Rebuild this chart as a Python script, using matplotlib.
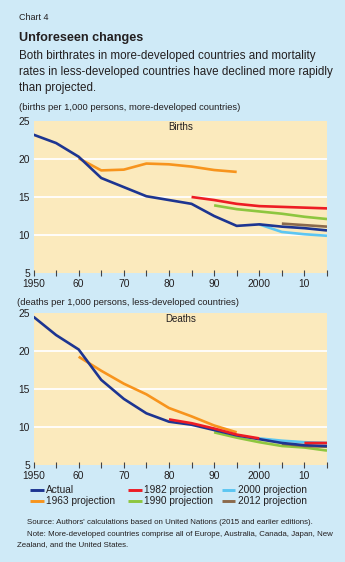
import numpy as np
import matplotlib.pyplot as plt
from matplotlib.lines import Line2D

plt.rcParams['font.family'] = ['Liberation Sans', 'DejaVu Sans']

years = np.arange(1950, 2020, 5)
nan = np.nan

# births per 1,000 persons, more-developed countries
births_actual = [23.2, 22.1, 20.3, 17.5, 16.3, 15.1, 14.6, 14.1, 12.5, 11.2, 11.4, 11.1, 10.9, 10.6]
births_1963 = [nan, nan, 20.1, 18.5, 18.6, 19.4, 19.3, 19.0, 18.55, 18.3, nan, nan, nan, nan]
births_1982 = [nan, nan, nan, nan, nan, nan, nan, 15.0, 14.6, 14.1, 13.8, 13.7, 13.6, 13.5]
births_1990 = [nan, nan, nan, nan, nan, nan, nan, nan, 13.9, 13.4, 13.1, 12.8, 12.4, 12.1]
births_2000 = [nan, nan, nan, nan, nan, nan, nan, nan, nan, nan, 11.4, 10.4, 10.1, 9.9]
births_2012 = [nan, nan, nan, nan, nan, nan, nan, nan, nan, nan, nan, 11.5, 11.3, 11.1]

# deaths per 1,000 persons, less-developed countries
deaths_actual = [24.5, 22.1, 20.2, 16.2, 13.7, 11.8, 10.7, 10.3, 9.6, 8.9, 8.4, 7.9, 7.6, 7.5]
deaths_1963 = [nan, nan, 19.25, 17.4, 15.7, 14.3, 12.5, 11.4, 10.2, 9.3, nan, nan, nan, nan]
deaths_1982 = [nan, nan, nan, nan, nan, nan, 11.0, 10.5, 9.8, 9.0, 8.5, nan, 7.9, 7.9]
deaths_1990 = [nan, nan, nan, nan, nan, nan, nan, nan, 9.3, 8.6, 8.0, 7.5, 7.3, 6.9]
deaths_2000 = [nan, nan, nan, nan, nan, nan, nan, nan, nan, nan, 8.5, 8.2, 8.0, 7.9]
deaths_2012 = [nan, nan, nan, nan, nan, nan, nan, nan, nan, nan, nan, 7.8, 7.5, 7.4]

series_names = ["Actual", "1963 projection", "1982 projection",
                "1990 projection", "2000 projection", "2012 projection"]
colors = ["#1d3591", "#f7941d", "#ed1c24", "#8dc63f", "#5cc6f2", "#8b6a4c"]

xtick_labels = ["1950", "60", "70", "80", "90", "2000", "10"]

BG = "#cfeaf7"
PLOT_BG = "#fbeabd"
TXT = "#231f20"

W, H = 345, 562
fig = plt.figure(figsize=(W / 100, H / 100), dpi=100, facecolor=BG)
renderer = fig.canvas.get_renderer()


def fit(t, width_px, boost=1.0):
    # scale the font so the text spans about the same width as in the reference
    w = t.get_window_extent(renderer).width
    t.set_fontsize(t.get_fontsize() * width_px / w * boost)
    return t.get_fontsize()


def ftext(x, y, s, **kw):
    kw.setdefault("color", TXT)
    kw.setdefault("va", "center")
    return fig.text(x / W, 1 - y / H, s, **kw)


# font sizes measured against reference widths
probe = ftext(0, 0, "1950", fontsize=10)
tick_fs = fit(probe, 21, 1.08)
probe.remove()
probe = ftext(0, 0, "1982 projection", fontsize=10)
leg_fs = fit(probe, 63, 1.1)
probe.remove()


def px_axes(left, top, right, bottom):
    return fig.add_axes([left / W, 1 - bottom / H, (right - left) / W, (bottom - top) / H])


def style_axes(ax, title):
    ax.set_facecolor(PLOT_BG)
    ax.set_xlim(1950, 2015)
    ax.set_ylim(5, 25)
    ax.set_yticks([5, 10, 15, 20, 25])
    ax.set_xticks(np.arange(1950, 2016, 5))
    ax.set_xticklabels([xtick_labels[i // 2] if i % 2 == 0 else "" for i in range(14)])
    for s in ax.spines.values():
        s.set_visible(False)
    ax.tick_params(axis="y", length=0, labelsize=tick_fs, colors=TXT, pad=2.5)
    ax.tick_params(axis="x", direction="inout", length=4, width=0.8, color="#444444",
                   labelsize=tick_fs, labelcolor=TXT, pad=2.5)
    for v in [10, 15, 20]:
        ax.axhline(v, color="white", lw=1.3, zorder=1)
    ax.text(0.5, 1 - 5.5 / 152, title, transform=ax.transAxes, ha="center", va="center",
            fontsize=tick_fs * 0.95, color=TXT)


ax1 = px_axes(33.5, 121, 327, 273)
style_axes(ax1, "Births")
births = [births_actual, births_1963, births_1982, births_1990, births_2000, births_2012]
for i in [1, 2, 3, 4, 5, 0]:
    ax1.plot(years, births[i], color=colors[i], lw=1.9, zorder=3, solid_capstyle="butt")

ax2 = px_axes(33.5, 313, 327, 465)
style_axes(ax2, "Deaths")
deaths = [deaths_actual, deaths_1963, deaths_1982, deaths_1990, deaths_2000, deaths_2012]
for i in [1, 3, 4, 5, 0, 2]:
    ax2.plot(years, deaths[i], color=colors[i], lw=1.9, zorder=3, solid_capstyle="butt")

# header texts
fit(ftext(19, 18, "Chart 4", fontsize=7), 28, 1.05)
fit(ftext(19, 38, "Unforeseen changes", fontsize=10, weight="bold"), 119, 1.05)
sub = ftext(19, 56, "Both birthrates in more-developed countries and mortality", fontsize=9)
sub_fs = fit(sub, 288, 1.03)
ftext(19, 72.5, "rates in less-developed countries have declined more rapidly", fontsize=sub_fs)
ftext(19, 88.5, "than projected.", fontsize=sub_fs)
unit_fs = fit(ftext(19, 107, "(births per 1,000 persons, more-developed countries)",
                    fontsize=7), 210, 1.05)
ftext(17, 302.5, "(deaths per 1,000 persons, less-developed countries)", fontsize=unit_fs)

# legend, three columns of two rows
leg_cols = [30, 128, 222]
leg_rows = [490, 501]
for k, (name, c) in enumerate(zip(series_names, colors)):
    x0 = leg_cols[k // 2]
    y0 = leg_rows[k % 2]
    fig.add_artist(Line2D([x0 / W, (x0 + 13.5) / W], [1 - y0 / H, 1 - y0 / H],
                          color=c, lw=2.1, transform=fig.transFigure,
                          solid_capstyle="butt"))
    ftext(x0 + 16, y0, name, fontsize=leg_fs)

# notes
src_fs = fit(ftext(27, 522.5, "Source: Authors' calculations based on United Nations "
                   "(2015 and earlier editions).", fontsize=6), 276, 1.04)
ftext(27, 534, "Note: More-developed countries comprise all of Europe, Australia, Canada, "
      "Japan, New", fontsize=src_fs)
ftext(17, 544.5, "Zealand, and the United States.", fontsize=src_fs)

fig.savefig("out.png", dpi=100, facecolor=BG)
